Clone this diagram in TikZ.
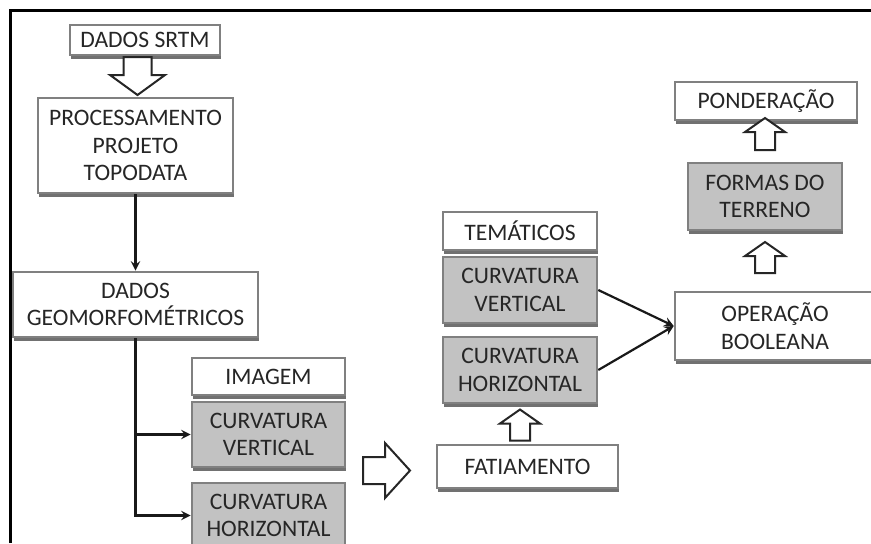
\documentclass[tikz,border=0pt]{standalone}
\usepackage{fontspec}
\setmainfont{Carlito}
\usetikzlibrary{shadows,positioning}
\tikzset{
  etapa/.style={draw=black!50, line width=1.3pt, fill=white, text=black!85,
    align=center, inner sep=1pt, font=\fontsize{11.8}{13.8}\selectfont,
    drop shadow={shadow xshift=0.7pt, shadow yshift=-1.9pt, fill=black!65, opacity=0.85}},
  etapacinza/.style={etapa, fill=black!24},
  ligacao/.style={->, line width=1.1pt, draw=black!90},
  pics/vazada/.style args={#1/#2/#3/#4}{code={
    \draw[line width=1pt, draw=black!85, fill=white, line join=miter]
      ({-#1/2},{-#3/2}) -- ({#1/2-#4},{-#3/2}) -- ({#1/2-#4},{-#2/2}) -- ({#1/2},0)
      -- ({#1/2-#4},{#2/2}) -- ({#1/2-#4},{#3/2}) -- ({-#1/2},{#3/2}) -- cycle;
  }}
}
\begin{document}
\begin{tikzpicture}[x=0.5pt, y=-0.5pt, >=stealth]
  \useasboundingbox[fill=white] (0,0) rectangle (871,543);
  % moldura
  \draw[line width=1.5pt] (10,543) -- (10,10) -- (871,10);

  % coluna da esquerda
  \node[etapa, minimum width=75pt, minimum height=15pt] (srtm) at (145,40) {DADOS SRTM};
  \node[etapa, minimum width=97.5pt, minimum height=47.5pt] (proc) at (135.5,145.5) {PROCESSAMENTO\\PROJETO\\TOPODATA};
  \node[etapa, minimum width=122.5pt, minimum height=32.5pt] (geo) at (135.5,304.5) {DADOS\\GEOMORFOMÉTRICOS};

  % imagem
  \node[etapa, minimum width=76.5pt, minimum height=18.5pt] (imagem) at (268.5,376.5) {IMAGEM};
  \node[etapacinza, minimum width=76.5pt, minimum height=32.5pt] (cvImg) at (268.5,434.5) {CURVATURA\\VERTICAL};
  \node[etapacinza, minimum width=76.5pt, minimum height=32.5pt] (chImg) at (268.5,515.5) {CURVATURA\\HORIZONTAL};

  % tematicos
  \node[etapa, minimum width=77pt, minimum height=19pt] (tematicos) at (520,231) {TEMÁTICOS};
  \node[etapacinza, minimum width=77pt, minimum height=33pt] (cvTem) at (520,290) {CURVATURA\\VERTICAL};
  \node[etapacinza, minimum width=77pt, minimum height=33pt] (chTem) at (520,370) {CURVATURA\\HORIZONTAL};
  \node[etapa, minimum width=90.5pt, minimum height=21.5pt] (fatiamento) at (527.5,466.5) {FATIAMENTO};

  % coluna da direita
  \node[etapa, minimum width=100pt, minimum height=34pt, text width=80pt] (booleana) at (775,326) {OPERAÇÃO\\BOOLEANA};
  \node[etapacinza, minimum width=77pt, minimum height=33.5pt] (formas) at (765,196.5) {FORMAS DO\\TERRENO};
  \node[etapa, minimum width=91pt, minimum height=19pt] (ponderacao) at (766,101) {PONDERAÇÃO};

  % setas vazadas
  \pic[rotate=-90] at (137.5,76) {vazada=38/55/28/20};
  \pic at (386.5,470.5) {vazada=47/55/27/25};
  \pic[rotate=90] at (520,425) {vazada=31/40/20/14};
  \pic[rotate=90] at (765,257.5) {vazada=31/40/20/14};
  \pic[rotate=90] at (765,134) {vazada=32/40/20/14};

  % ligacoes
  \draw[ligacao] (proc) -- (geo);
  \draw[ligacao] (geo.south) |- (cvImg.west);
  \draw[ligacao] (geo.south) |- (chImg.west);
  \draw[ligacao] (cvTem.east) -- (booleana.west);
  \draw[ligacao] (chTem.east) -- (booleana.west);
\end{tikzpicture}
\end{document}
